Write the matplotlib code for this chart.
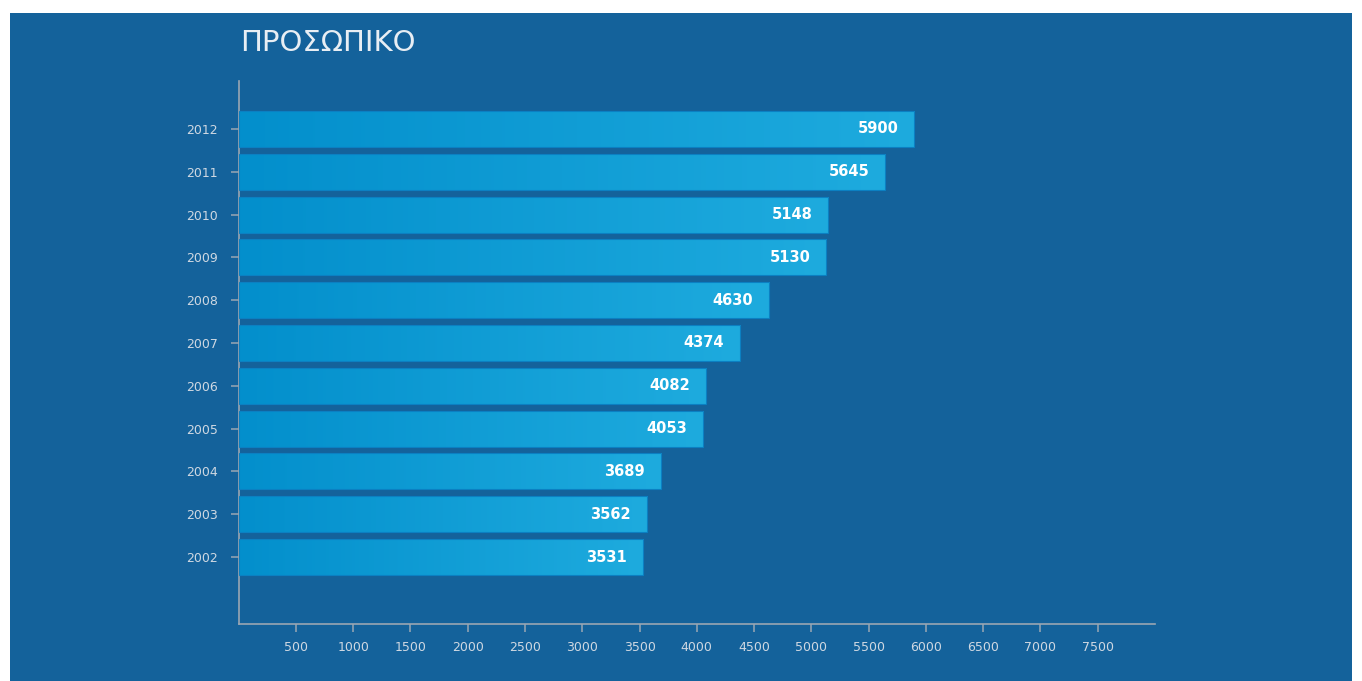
import matplotlib.pyplot as plt
import numpy as np
from matplotlib.colors import LinearSegmentedColormap
from matplotlib.patches import Rectangle

plt.rcParams['font.family'] = ['DejaVu Sans']

years = ['2002', '2003', '2004', '2005', '2006', '2007', '2008', '2009', '2010', '2011', '2012']
staff = [3531, 3562, 3689, 4053, 4082, 4374, 4630, 5130, 5148, 5645, 5900]
xticks = [500, 1000, 1500, 2000, 2500, 3000, 3500, 4000, 4500, 5000, 5500, 6000, 6500, 7000, 7500]
title = 'ΠΡΟΣΩΠΙΚΟ'

panel = '#14629b'
text_col = '#cfd8e2'
axis_col = '#9aa6b3'
bar_cmap = LinearSegmentedColormap.from_list('bar', ['#038fcc', '#1eabde'])

fig = plt.figure(figsize=(13.62, 6.81), dpi=100, facecolor='white')
fig.patches.append(Rectangle((10 / 1362, 0), 1342 / 1362, 668 / 681,
                             transform=fig.transFigure, facecolor=panel,
                             edgecolor='none', zorder=-10))

ax = fig.add_axes([0.1752, 0.0837, 0.6728, 0.7974])
ax.set_zorder(5)
ax.set_facecolor('none')

pos = np.arange(len(years))
bar_h = 0.84
bars = ax.barh(pos, staff, height=bar_h, facecolor='none',
               edgecolor='#0b80c2', linewidth=0.8, zorder=3)

# horizontal gradient inside every bar
grad = np.linspace(0, 1, 256).reshape(1, -1)
for b, v, y in zip(bars, staff, pos):
    im = ax.imshow(grad, cmap=bar_cmap, aspect='auto', zorder=2,
                   extent=[0, v, y - bar_h / 2, y + bar_h / 2])
    im.set_clip_path(b)
    ax.text(v - 140, y, str(v), ha='right', va='center', color='white',
            fontsize=10.5, fontweight='bold', zorder=4)

ax.set_xlim(0, 8000)
ax.set_ylim(-1.565, 11.12)

ax.set_xticks(xticks)
ax.set_xticklabels([str(t) for t in xticks])
ax.set_yticks(pos)
ax.set_yticklabels(years)

for s in ['top', 'right']:
    ax.spines[s].set_visible(False)
for s in ['left', 'bottom']:
    ax.spines[s].set_color(axis_col)
    ax.spines[s].set_linewidth(1.2)

ax.tick_params(axis='both', colors=axis_col, length=6, width=1.1,
               labelcolor=text_col, labelsize=9)
ax.tick_params(axis='x', pad=6)
ax.tick_params(axis='y', pad=9)

fig.text(240 / 1362, 1 - 43 / 681, title, ha='left', va='center',
         color='#e8eef4', fontsize=21)

fig.savefig('out.png', dpi=100, facecolor='white')
